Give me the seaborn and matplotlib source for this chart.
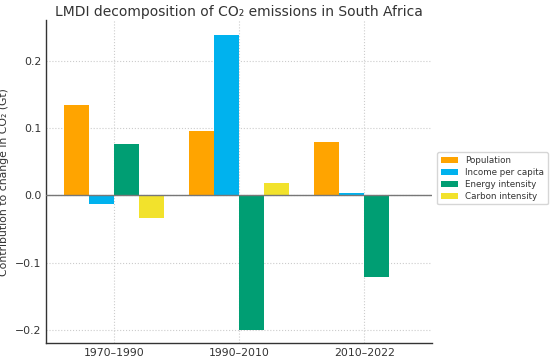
import pandas as pd
import matplotlib
matplotlib.use("Agg")
import matplotlib.pyplot as plt
import seaborn as sns

# values (Gt CO2)
periods = ["1970–1990", "1990–2010", "2010–2022"]
factors = ["Population", "Income per capita", "Energy intensity", "Carbon intensity"]
population = [0.134, 0.096, 0.079]
income = [-0.012, 0.238, 0.004]
energy = [0.076, -0.199, -0.121]
carbon = [-0.034, 0.019, 0.0]
colors = ["#FFA400", "#00B2EE", "#009E73", "#F2E22C"]

rows = []
for name, vals in zip(factors, [population, income, energy, carbon]):
    for p, v in zip(periods, vals):
        rows.append({"Period": p, "Factor": name, "Value": v})
df = pd.DataFrame(rows)

sns.set_style("white")
plt.rcParams["font.family"] = ["DejaVu Sans"]
text_col = "#333333"

fig = plt.figure(figsize=(5.5, 3.6), dpi=100)
ax = fig.add_axes([0.084, 0.047, 0.701, 0.897])

sns.barplot(data=df, x="Period", y="Value", hue="Factor", hue_order=factors,
            palette=colors, saturation=1, width=0.8, ax=ax, zorder=3,
            linewidth=0, edgecolor="none")

ax.axhline(0, color="#777777", linewidth=1.0, zorder=4)
ax.grid(True, linestyle=":", color="#cccccc", linewidth=0.8, zorder=0)
ax.set_axisbelow(True)
ax.set_xlim(-0.54, 2.54)
ax.set_ylim(-0.219, 0.26)
ax.set_yticks([-0.2, -0.1, 0.0, 0.1, 0.2])

for s in ["top", "right"]:
    ax.spines[s].set_visible(False)
for s in ["left", "bottom"]:
    ax.spines[s].set_color("#333333")
    ax.spines[s].set_linewidth(1.0)

ax.tick_params(axis="both", direction="in", length=3, labelsize=7.8, colors=text_col)
ax.set_xlabel("")
ax.set_ylabel("Contribution to change in CO₂ (Gt)", fontsize=7.8, color=text_col, labelpad=4)
ax.set_title("LMDI decomposition of CO₂ emissions in South Africa", fontsize=10, color=text_col, pad=3)

ax.legend(loc="center left", bbox_to_anchor=(1.003, 0.51), fontsize=6.3, frameon=True,
          handlelength=2.0, labelspacing=0.35, labelcolor=text_col)

fig.savefig("out.png", dpi=100)
